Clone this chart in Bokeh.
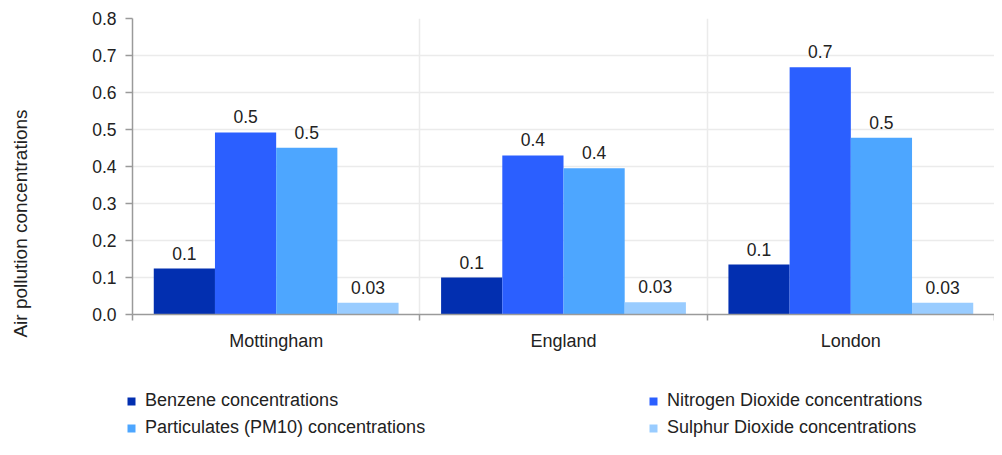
from bokeh.plotting import figure
from bokeh.layouts import row, column
from bokeh.models import (Range1d, FixedTicker, Legend, LegendItem, Label,
                          PrintfTickFormatter, ColumnDataSource)
from bokeh.embed import file_html
from bokeh.resources import INLINE
from bokeh.core.properties import value

# ---- data ----
regions = ["Mottingham", "England", "London"]
series_names = ["Benzene concentrations", "Nitrogen Dioxide concentrations",
                "Particulates (PM10) concentrations", "Sulphur Dioxide concentrations"]
benzene = [0.124, 0.100, 0.135]
nitrogen_dioxide = [0.492, 0.430, 0.668]
particulates_pm10 = [0.451, 0.395, 0.478]
sulphur_dioxide = [0.032, 0.033, 0.032]
y_ticks = [0.0, 0.1, 0.2, 0.3, 0.4, 0.5, 0.6, 0.7, 0.8]
y_title = "Air pollution concentrations"
colors = ["#022fb0", "#2b5fff", "#4da6ff", "#99ccff"]

series_values = [benzene, nitrogen_dioxide, particulates_pm10, sulphur_dioxide]

FONT = "Liberation Sans"
TXT = "#222222"
AXIS = "#9a9a9a"
GRID = "#ebebeb"

STRIP_W = 40
TOTAL_W = 994
MAIN_H = 360
LEG_H = 79

# ---- left strip with the y-axis title ----
strip = figure(width=STRIP_W, height=MAIN_H + LEG_H, x_range=Range1d(0, 1), y_range=Range1d(0, 1),
               output_backend="svg", toolbar_location=None, x_axis_location=None, y_axis_location=None,
               min_border=0)
strip.outline_line_color = None
strip.grid.visible = False
strip.add_layout(Label(x=20, y=MAIN_H + LEG_H - 223, x_units="screen", y_units="screen",
                       angle=90, angle_units="deg", text=y_title, text_align="center",
                       text_baseline="middle", text_font=FONT, text_font_size="19px", text_color=TXT))

# ---- main chart ----
p = figure(width=TOTAL_W - STRIP_W, height=MAIN_H, x_range=Range1d(0, len(regions)), y_range=Range1d(0, 0.8),
           output_backend="svg", toolbar_location=None,
           min_border_left=132 - STRIP_W, min_border_right=0, min_border_top=18, min_border_bottom=46)
p.outline_line_color = None

bar_w = 0.213
for j, (name, vals) in enumerate(zip(series_names, series_values)):
    xs = [i + 0.5 + (j - 1.5) * bar_w for i in range(len(regions))]
    labels = [f"{v:.1g}" for v in vals]
    src = ColumnDataSource(dict(x=xs, top=vals, label=labels))
    p.vbar(x="x", top="top", width=bar_w, source=src, fill_color=colors[j], line_color=None)
    p.text(x="x", y="top", text="label", source=src, text_align="center", text_baseline="bottom",
           y_offset=-9, text_font=value(FONT), text_font_size="17.5px", text_color=TXT)

# y axis
p.yaxis.ticker = FixedTicker(ticks=y_ticks)
p.yaxis.formatter = PrintfTickFormatter(format="%.1f")
p.yaxis.axis_line_color = AXIS
p.yaxis.axis_line_width = 1.5
p.yaxis.major_tick_line_color = AXIS
p.yaxis.major_tick_line_width = 1.5
p.yaxis.major_tick_out = 7
p.yaxis.major_tick_in = 0
p.yaxis.minor_tick_out = 0
p.yaxis.minor_tick_in = 0
p.yaxis.major_label_standoff = 9
p.yaxis.major_label_text_font = FONT
p.yaxis.major_label_text_font_size = "17.5px"
p.yaxis.major_label_text_color = TXT

# x axis: labels at group centres, ticks at group boundaries
centers = [i + 0.5 for i in range(len(regions))]
p.xaxis.ticker = FixedTicker(ticks=centers, minor_ticks=list(range(len(regions) + 1)))
p.xaxis.major_label_overrides = {c: r for c, r in zip(centers, regions)}
p.xaxis.axis_line_color = AXIS
p.xaxis.axis_line_width = 1.5
p.xaxis.major_tick_out = 0
p.xaxis.major_tick_in = 0
p.xaxis.minor_tick_out = 6
p.xaxis.minor_tick_in = 0
p.xaxis.minor_tick_line_color = AXIS
p.xaxis.minor_tick_line_width = 1.5
p.xaxis.major_label_standoff = 10
p.xaxis.major_label_text_font = FONT
p.xaxis.major_label_text_font_size = "18px"
p.xaxis.major_label_text_color = TXT

# grids
p.xgrid.ticker = FixedTicker(ticks=list(range(len(regions) + 1)))
p.xgrid.grid_line_color = GRID
p.xgrid.grid_line_width = 1.5
p.ygrid.grid_line_color = GRID
p.ygrid.grid_line_width = 1.5

# ---- legend panel ----
leg = figure(width=TOTAL_W - STRIP_W, height=LEG_H, x_range=Range1d(0, 1), y_range=Range1d(0, 1),
             output_backend="svg", toolbar_location=None, x_axis_location=None, y_axis_location=None,
             min_border=0)
leg.outline_line_color = None
leg.grid.visible = False
p.frame_align = False
leg.frame_align = False
swatches = [leg.vbar(x=[-10], top=[-10], width=1, fill_color=c, line_color=None) for c in colors]

def make_legend(idx, x, y):
    lg = Legend(items=[LegendItem(label=series_names[k], renderers=[swatches[k]]) for k in idx],
                location=(x, y), orientation="vertical", padding=0, margin=0, spacing=0,
                glyph_width=10, glyph_height=10, label_standoff=9, label_height=27,
                label_text_font=FONT, label_text_font_size="18px", label_text_color=TXT,
                border_line_alpha=0, background_fill_alpha=0)
    leg.add_layout(lg, "center")

make_legend([0, 2], 126 - STRIP_W, -2)
make_legend([1, 3], 648 - STRIP_W, -2)

layout = row(strip, column(p, leg, spacing=0), spacing=0)
open("out.html", "w").write(file_html(layout, INLINE))
